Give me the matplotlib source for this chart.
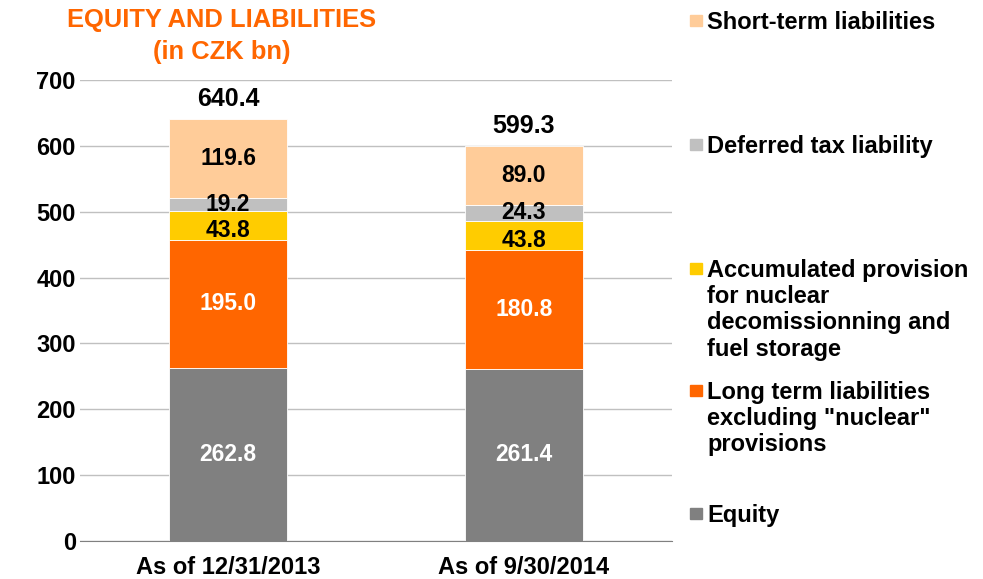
import numpy as np
import matplotlib.pyplot as plt
from matplotlib.patches import Rectangle

plt.rcParams['font.family'] = ['Liberation Sans', 'DejaVu Sans']
plt.rcParams['font.weight'] = 'bold'

dates = ["As of 12/31/2013", "As of 9/30/2014"]
equity = [262.8, 261.4]
long_term = [195.0, 180.8]
nuclear = [43.8, 43.8]
deferred_tax = [19.2, 24.3]
short_term = [119.6, 89.0]
totals = [640.4, 599.3]

# name, values, bar colour, label colour, label nudge (points)
series = [
    ("Equity", equity, "#808080", "white", 0),
    ("Long term liabilities\nexcluding \"nuclear\"\nprovisions", long_term, "#FF6600", "white", 0),
    ("Accumulated provision\nfor nuclear\ndecomissionning and\nfuel storage", nuclear, "#FFCC00", "black", -4),
    ("Deferred tax liability", deferred_tax, "#C0C0C0", "black", 0),
    ("Short-term liabilities", short_term, "#FFCC99", "black", 0),
]

fig = plt.figure(figsize=(9.83, 5.79), dpi=100)
ax = fig.add_axes([0.0814, 0.0656, 0.6022, 0.7962])

x = np.arange(len(dates))
bottom = np.zeros(len(dates))
for name, vals, col, txtcol, nudge in series:
    vals = np.array(vals)
    ax.bar(x, vals, 0.4, bottom=bottom, color=col, edgecolor="white", linewidth=0.6, zorder=3)
    for i in range(len(x)):
        ax.annotate("%.1f" % vals[i], (x[i], bottom[i] + vals[i] / 2), xytext=(0, nudge),
                    textcoords="offset points", ha="center", va="center",
                    fontsize=16.5, fontweight="bold", color=txtcol, zorder=4)
    bottom += vals

for i in range(len(x)):
    ax.annotate("%.1f" % totals[i], (x[i], totals[i]), xytext=(0, 14.5), textcoords="offset points",
                ha="center", va="center", fontsize=18, fontweight="bold")

ax.set_xlim(-0.5, 1.5)
ax.set_ylim(0, 700)
ax.set_yticks(range(0, 701, 100))
ax.set_xticks(x)
ax.set_xticklabels(dates)
ax.tick_params(axis="both", length=0, labelsize=17)
ax.tick_params(axis="y", pad=3)
ax.tick_params(axis="x", pad=11)
for lab in ax.get_xticklabels() + ax.get_yticklabels():
    lab.set_fontweight("bold")
ax.grid(axis="y", color="#C0C0C0", linewidth=1, zorder=0)
for s in ax.spines.values():
    s.set_visible(False)
ax.spines["bottom"].set_visible(True)
ax.spines["bottom"].set_color("#808080")
ax.spines["bottom"].set_zorder(5)

fig.text(222 / 983, 1 - 20 / 579, "EQUITY AND LIABILITIES", ha="center", va="center",
         fontsize=18.4, fontweight="bold", color="#FF6600")
fig.text(222 / 983, 1 - 52 / 579, "(in CZK bn)", ha="center", va="center",
         fontsize=18.4, fontweight="bold", color="#FF6600")

# legend drawn by hand, top-down
legend_y = [20, 144, 268, 390, 513]
for (name, vals, col, txtcol, nudge), ly in zip(series[::-1], legend_y):
    fig.patches.append(Rectangle((690 / 983, 1 - (ly + 6) / 579), 12 / 983, 11 / 579,
                                 transform=fig.transFigure, color=col))
    fig.text(707 / 983, 1 - (ly - 9) / 579, name, ha="left", va="top",
             fontsize=17, fontweight="bold", linespacing=1.18)

fig.savefig("out.png", dpi=100)
